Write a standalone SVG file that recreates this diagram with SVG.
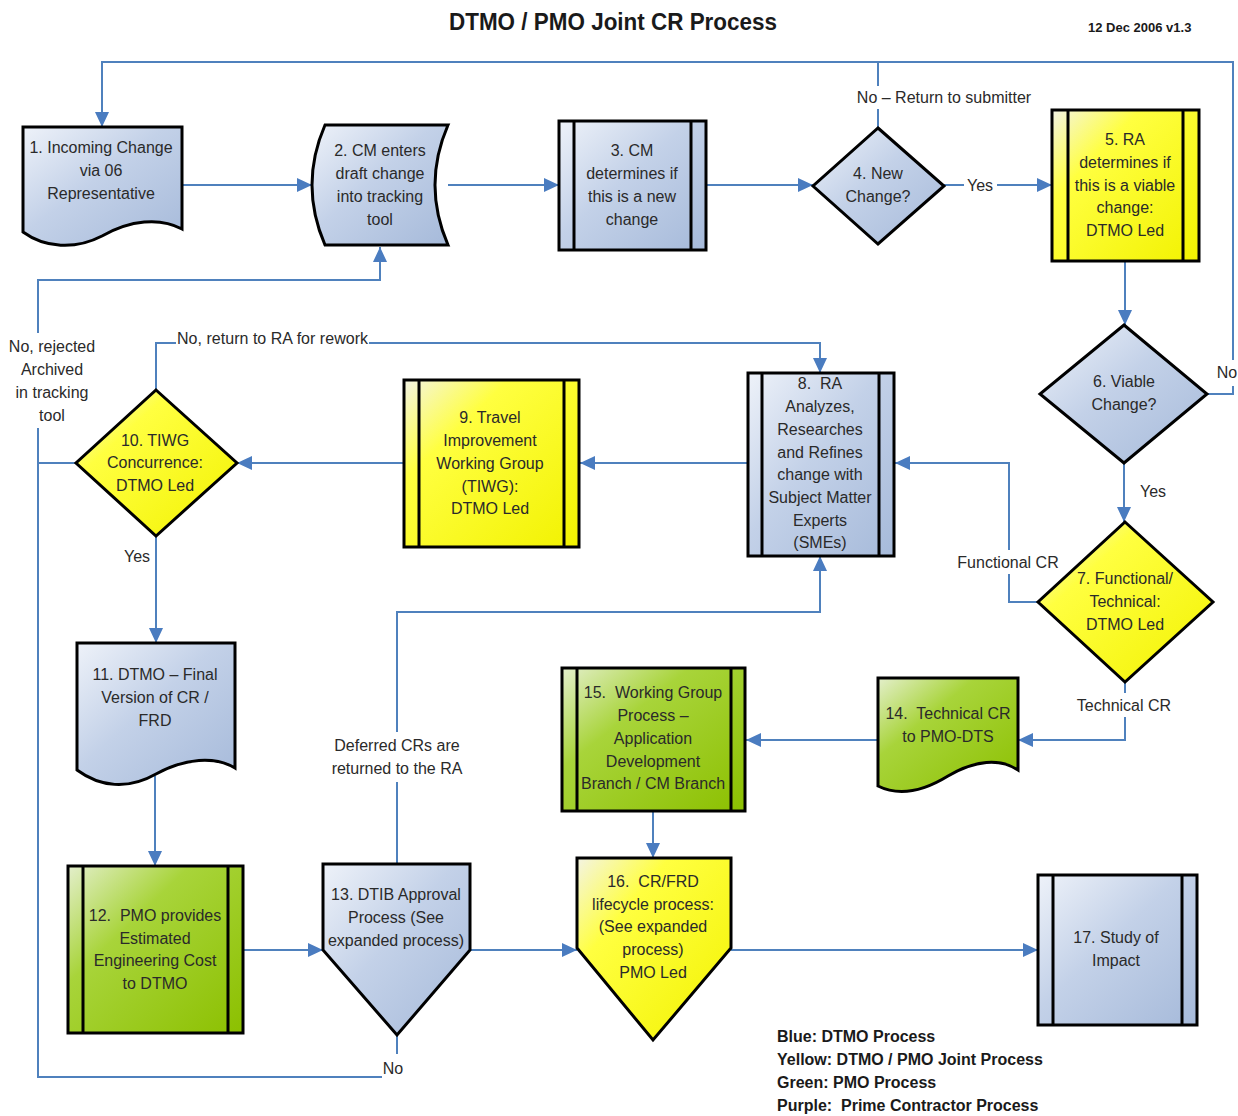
<svg xmlns="http://www.w3.org/2000/svg" width="1238" height="1116" viewBox="0 0 1238 1116">
<defs>
<linearGradient id="gBlue" x1="0" y1="0" x2="1" y2="1">
<stop offset="0" stop-color="#eef2f9"/><stop offset="0.45" stop-color="#c3d1e8"/><stop offset="1" stop-color="#a6bada"/>
</linearGradient>
<linearGradient id="gYellow" x1="0" y1="0" x2="1" y2="1">
<stop offset="0" stop-color="#f4f4e4"/><stop offset="0.3" stop-color="#ffff40"/><stop offset="1" stop-color="#f2f200"/>
</linearGradient>
<linearGradient id="gGreen" x1="0" y1="0" x2="1" y2="1">
<stop offset="0" stop-color="#e4efcc"/><stop offset="0.35" stop-color="#a8d43a"/><stop offset="1" stop-color="#8cc000"/>
</linearGradient>
<marker id="arr" markerUnits="userSpaceOnUse" markerWidth="15" markerHeight="14" refX="15" refY="7" orient="auto">
<path d="M0,0 L15,7 L0,14 Z" fill="#4a7cc0"/>
</marker>
</defs>
<style>
.n{stroke:#000;stroke-width:3;stroke-linejoin:miter}
.blue{fill:url(#gBlue)}
.yel{fill:url(#gYellow)}
.grn{fill:url(#gGreen)}
.bar{stroke:#000;stroke-width:3}
.t{font-family:"Liberation Sans",Arial,sans-serif;font-size:16px;fill:#2a2a2a;text-anchor:middle}
.lbl{font-family:"Liberation Sans",Arial,sans-serif;font-size:16px;fill:#2a2a2a;text-anchor:middle}
.lbs{font-family:"Liberation Sans",Arial,sans-serif;font-size:16px;fill:#2a2a2a;text-anchor:start}
.c{fill:none;stroke:#4f81bd;stroke-width:2}
.a{marker-end:url(#arr)}
.b{font-family:"Liberation Sans",Arial,sans-serif;font-weight:bold;fill:#1a1a1a}
</style>
<rect width="1238" height="1116" fill="#fff"/>
<text class="b" x="613" y="30" font-size="23" text-anchor="middle" textLength="328" lengthAdjust="spacingAndGlyphs">DTMO / PMO Joint CR Process</text>
<text class="b" x="1088" y="32" font-size="13">12 Dec 2006 v1.3</text>

<g id="connectors">
<path class="c a" d="M182,185 H312"/>
<path class="c a" d="M448,185 H559"/>
<path class="c a" d="M706,185 H813"/>
<path class="c" d="M944,185 H964"/>
<path class="c a" d="M997,185 H1052"/>
<text class="lbl" x="980" y="191">Yes</text>
<path class="c" d="M878,128 V109"/>
<path class="c" d="M878,86 V62"/>
<text class="lbl" x="944" y="103">No – Return to submitter</text>
<path class="c a" d="M1125,261 V325"/>
<path class="c a" d="M1124,463 V522"/>
<text class="lbl" x="1153" y="497">Yes</text>
<path class="c" d="M1207,394 H1233 V386"/>
<path class="c a" d="M1233,360 V62 H102 V127"/>
<text class="lbl" x="1227" y="378">No</text>
<path class="c" d="M1038,602 H1009 V574"/>
<path class="c a" d="M1009,550 V463 H895"/>
<text class="lbl" x="1008" y="568">Functional CR</text>
<path class="c" d="M1125,683 V693"/>
<path class="c a" d="M1125,717 V740 H1018"/>
<text class="lbl" x="1124" y="711">Technical CR</text>
<path class="c a" d="M878,740 H746"/>
<path class="c a" d="M653,812 V858"/>
<path class="c a" d="M748,463 H580"/>
<path class="c a" d="M404,463 H237"/>
<path class="c" d="M156,390 V343 H176"/>
<path class="c a" d="M369,343 H820 V373"/>
<text class="lbs" x="177" y="344" textLength="191" lengthAdjust="spacing">No, return to RA for rework</text>
<path class="c" d="M76,463 H38"/>
<path class="c" d="M397,1035 V1054"/>
<path class="c" d="M382,1077 H38 V428"/>
<path class="c a" d="M38,333 V280 H380 V247"/>
<text class="lbl" x="393" y="1074">No</text>
<text class="lbl" x="52" y="352">No, rejected</text>
<text class="lbl" x="52" y="375">Archived</text>
<text class="lbl" x="52" y="398">in tracking</text>
<text class="lbl" x="52" y="421">tool</text>
<path class="c a" d="M156,536 V643"/>
<text class="lbl" x="137" y="562">Yes</text>
<path class="c a" d="M155,776 V866"/>
<path class="c a" d="M243,950 H323"/>
<path class="c" d="M397,864 V782"/>
<path class="c a" d="M397,732 V612 H820 V556"/>
<text class="lbl" x="397" y="751">Deferred CRs are</text>
<text class="lbl" x="397" y="774">returned to the RA</text>
<path class="c a" d="M470,950 H577"/>
<path class="c a" d="M731,950 H1038"/>
</g>

<g id="n1">
<path class="n blue" d="M23,127 H182 V229 C160,217 130,220 102,236 C75,250 45,248 23,232 Z"/>
<text class="t" x="101" y="153">1. Incoming Change</text>
<text class="t" x="101" y="176">via 06</text>
<text class="t" x="101" y="199">Representative</text>
</g>
<g id="n2">
<path class="n blue" d="M325,125 H448 Q422,185 448,245 H325 Q299,185 325,125 Z"/>
<text class="t" x="380" y="156">2. CM enters</text>
<text class="t" x="380" y="179">draft change</text>
<text class="t" x="380" y="202">into tracking</text>
<text class="t" x="380" y="225">tool</text>
</g>
<g id="n3">
<rect class="n blue" x="559" y="121" width="147" height="129"/>
<path class="bar" d="M574,121 V250 M691,121 V250"/>
<text class="t" x="632" y="156">3. CM</text>
<text class="t" x="632" y="179">determines if</text>
<text class="t" x="632" y="202">this is a new</text>
<text class="t" x="632" y="225">change</text>
</g>
<g id="n4">
<polygon class="n blue" points="878,128 944,186 878,244 813,186"/>
<text class="t" x="878" y="179">4. New</text>
<text class="t" x="878" y="202">Change?</text>
</g>
<g id="n5">
<rect class="n yel" x="1052" y="110" width="147" height="151"/>
<path class="bar" d="M1068,110 V261 M1183,110 V261"/>
<text class="t" x="1125" y="145">5. RA</text>
<text class="t" x="1125" y="168">determines if</text>
<text class="t" x="1125" y="191">this is a viable</text>
<text class="t" x="1125" y="213">change:</text>
<text class="t" x="1125" y="236">DTMO Led</text>
</g>
<g id="n6">
<polygon class="n blue" points="1124,325 1207,394 1124,463 1040,394"/>
<text class="t" x="1124" y="387">6. Viable</text>
<text class="t" x="1124" y="410">Change?</text>
</g>
<g id="n7">
<polygon class="n yel" points="1125,522 1213,602 1125,682 1038,602"/>
<text class="t" x="1125" y="584">7. Functional/</text>
<text class="t" x="1125" y="607">Technical:</text>
<text class="t" x="1125" y="630">DTMO Led</text>
</g>
<g id="n8">
<rect class="n blue" x="748" y="373" width="146" height="183"/>
<path class="bar" d="M762,373 V556 M879,373 V556"/>
<text class="t" x="820" y="389">8.&#160; RA</text>
<text class="t" x="820" y="412">Analyzes,</text>
<text class="t" x="820" y="435">Researches</text>
<text class="t" x="820" y="458">and Refines</text>
<text class="t" x="820" y="480">change with</text>
<text class="t" x="820" y="503">Subject Matter</text>
<text class="t" x="820" y="526">Experts</text>
<text class="t" x="820" y="548">(SMEs)</text>
</g>
<g id="n9">
<rect class="n yel" x="404" y="380" width="175" height="167"/>
<path class="bar" d="M419,380 V547 M564,380 V547"/>
<text class="t" x="490" y="423">9. Travel</text>
<text class="t" x="490" y="446">Improvement</text>
<text class="t" x="490" y="469">Working Group</text>
<text class="t" x="490" y="492">(TIWG):</text>
<text class="t" x="490" y="514">DTMO Led</text>
</g>
<g id="n10">
<polygon class="n yel" points="156,390 237,463 156,536 76,463"/>
<text class="t" x="155" y="446">10. TIWG</text>
<text class="t" x="155" y="468">Concurrence:</text>
<text class="t" x="155" y="491">DTMO Led</text>
</g>
<g id="n11">
<path class="n blue" d="M77,643 H235 V768 C215,756 185,758 156,774 C128,790 100,787 77,770 Z"/>
<text class="t" x="155" y="680">11. DTMO – Final</text>
<text class="t" x="155" y="703">Version of CR /</text>
<text class="t" x="155" y="726">FRD</text>
</g>
<g id="n12">
<rect class="n grn" x="68" y="866" width="175" height="167"/>
<path class="bar" d="M83,866 V1033 M228,866 V1033"/>
<text class="t" x="155" y="921">12.&#160; PMO provides</text>
<text class="t" x="155" y="944">Estimated</text>
<text class="t" x="155" y="966">Engineering Cost</text>
<text class="t" x="155" y="989">to DTMO</text>
</g>
<g id="n13">
<path class="n blue" d="M323,864 H470 V950 L397,1035 L323,950 Z"/>
<text class="t" x="396" y="900">13. DTIB Approval</text>
<text class="t" x="396" y="923">Process (See</text>
<text class="t" x="396" y="946">expanded process)</text>
</g>
<g id="n14">
<path class="n grn" d="M878,678 H1018 V770 C1000,758 975,760 948,776 C922,792 898,796 878,786 Z"/>
<text class="t" x="948" y="719">14.&#160; Technical CR</text>
<text class="t" x="948" y="742">to PMO-DTS</text>
</g>
<g id="n15">
<rect class="n grn" x="562" y="668" width="183" height="143"/>
<path class="bar" d="M577,668 V811 M731,668 V811"/>
<text class="t" x="653" y="698">15.&#160; Working Group</text>
<text class="t" x="653" y="721">Process –</text>
<text class="t" x="653" y="744">Application</text>
<text class="t" x="653" y="767">Development</text>
<text class="t" x="653" y="789">Branch / CM Branch</text>
</g>
<g id="n16">
<path class="n yel" d="M577,858 H731 V948 L653,1040 L577,948 Z"/>
<text class="t" x="653" y="887">16.&#160; CR/FRD</text>
<text class="t" x="653" y="910">lifecycle process:</text>
<text class="t" x="653" y="932">(See expanded</text>
<text class="t" x="653" y="955">process)</text>
<text class="t" x="653" y="978">PMO Led</text>
</g>
<g id="n17">
<rect class="n blue" x="1038" y="875" width="159" height="150"/>
<path class="bar" d="M1053,875 V1025 M1182,875 V1025"/>
<text class="t" x="1116" y="943">17. Study of</text>
<text class="t" x="1116" y="966">Impact</text>
</g>
<g id="legend">
<text class="b" x="777" y="1042" font-size="16">Blue: DTMO Process</text>
<text class="b" x="777" y="1065" font-size="16">Yellow: DTMO / PMO Joint Process</text>
<text class="b" x="777" y="1088" font-size="16">Green: PMO Process</text>
<text class="b" x="777" y="1111" font-size="16">Purple:&#160; Prime Contractor Process</text>
</g>
</svg>
